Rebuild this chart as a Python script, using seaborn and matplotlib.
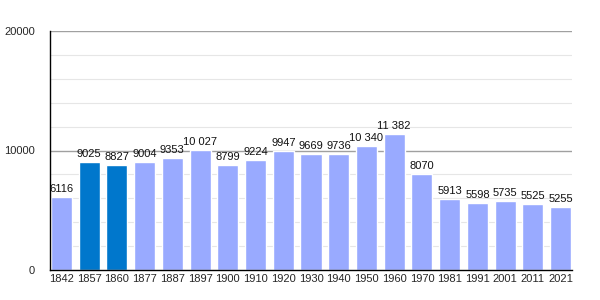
import matplotlib
matplotlib.use("Agg")
import matplotlib.pyplot as plt
import seaborn as sns
import pandas as pd

years = ["1842", "1857", "1860", "1877", "1887", "1897", "1900", "1910", "1920", "1930",
         "1940", "1950", "1960", "1970", "1981", "1991", "2001", "2011", "2021"]
population = [6116, 9025, 8827, 9004, 9353, 10027, 8799, 9224, 9947, 9669,
              9736, 10340, 11382, 8070, 5913, 5598, 5735, 5525, 5255]
highlight = ["1857", "1860"]

df = pd.DataFrame({"year": years, "pop": population})
light = "#99aaff"
dark = "#0077cc"
palette = {y: (dark if y in highlight else light) for y in years}

sns.set_style("white")
plt.rcParams['font.family'] = ['Liberation Sans', 'DejaVu Sans']

fig = plt.figure(figsize=(6, 3), dpi=100)
ax = fig.add_axes([50/600, 30/300, 522/600, 239/300])

ax.set_ylim(0, 20000)
for v in range(2000, 20001, 2000):
    if v % 10000 == 0:
        ax.axhline(v, color="#a0a0a0", lw=1.0, zorder=0)
    else:
        ax.axhline(v, color="#e6e6e6", lw=0.8, zorder=0)

bw = 0.76
sns.barplot(data=df, x="year", y="pop", hue="year", palette=palette, legend=False,
            width=bw, ax=ax, zorder=2, saturation=1)

def fmt(v):
    s = str(v)
    return s[:-3] + " " + s[-3:] if v >= 10000 else s

for i, v in enumerate(population):
    ax.text(i, v + 250, fmt(v), ha="center", va="bottom", fontsize=8, color="#111111")

ax.set_xlim(-bw / 2 - 0.03, len(years) - 1 + bw / 2 + 0.03)
ax.set_yticks([0, 10000, 20000])
ax.set_yticklabels(["0", "10000", "20000"], fontsize=8)
ax.set_yticks(range(0, 20001, 2000), minor=True)
ax.tick_params(axis="y", which="major", length=5, width=0.8, direction="out", pad=6)
ax.tick_params(axis="y", which="minor", length=3, width=0.8, direction="out")
ax.tick_params(axis="x", length=0, labelsize=8, pad=3)
ax.set_xlabel("")
ax.set_ylabel("")
for s in ["top", "right"]:
    ax.spines[s].set_visible(False)
ax.spines["left"].set_color("black")
ax.spines["bottom"].set_color("black")
ax.spines["left"].set_linewidth(1)
ax.spines["bottom"].set_linewidth(1)

fig.savefig("out.png", dpi=100)
